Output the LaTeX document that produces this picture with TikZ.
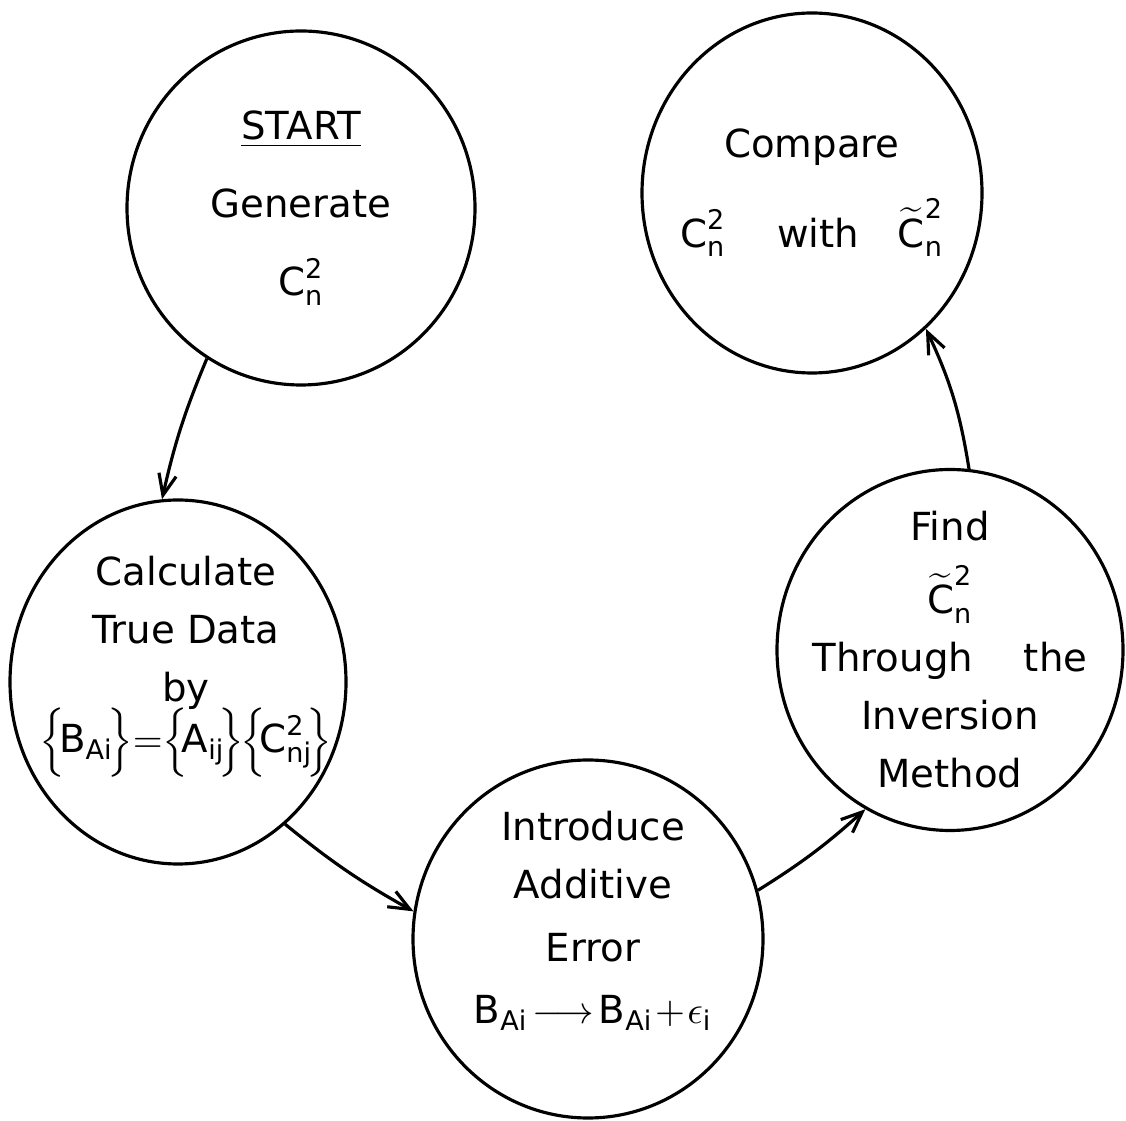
\documentclass[tikz,border=0pt]{standalone}
\usepackage{amsmath}
\usepackage{fontspec}
\setmainfont{DejaVu Sans}
\usetikzlibrary{shapes.geometric,arrows.meta}
\newcommand{\lett}[1]{\textnormal{#1}}
\newcommand{\Csq}{$\lett{C}^{\lett{2}}_{\lett{n}}$}
\newcommand{\Ctsq}{$\widetilde{\lett{C}}^{\lett{2}}_{\lett{n}}$}
\newcommand{\set}[1]{\Big\{\mkern-3mu#1\mkern-3mu\Big\}}
\tikzset{
  ring/.style={ellipse, draw, line width=0.9pt, inner sep=0pt},
  txt/.style={align=center, inner sep=0pt, font=\fontsize{11}{16.5}\selectfont},
  flow/.style={->, line width=0.9pt, >={Straight Barb[length=6pt,width=5pt]}},
}
\begin{document}
\begin{tikzpicture}
  \useasboundingbox (0,0) rectangle (11.26,11.20);
  % rings
  \node[ring, minimum width=3.48cm, minimum height=3.54cm] (start) at (3.01,9.12) {};
  \node[ring, minimum width=3.40cm, minimum height=3.60cm] (comp) at (8.12,9.27) {};
  \node[ring, minimum width=3.36cm, minimum height=3.64cm] (calc) at (1.78,4.38) {};
  \node[ring, minimum width=3.50cm, minimum height=3.58cm] (intro) at (5.88,1.81) {};
  \node[ring, minimum width=3.46cm, minimum height=3.61cm] (find) at (9.50,4.70) {};
  % texts
  \node[txt] (start-t) at (start) {\underline{START}\\[5.7pt] Generate\\[5.7pt] \Csq};
  \node[txt] (comp-t) at (comp) {Compare\\[9pt] \Csq\quad\ with\quad\Ctsq};
  \node[txt] (calc-t) at ([xshift=0.08cm,yshift=0.15cm]calc) {Calculate\\ True Data\\ by\\[-2pt]
    $\set{\lett{B}_{\lett{Ai}}}{=}\set{\lett{A}_{\lett{ij}}}\mkern-2mu\set{\lett{C}^{\lett{2}}_{\lett{nj}}}$};
  \node[txt] (intro-t) at ([xshift=0.05cm,yshift=0.18cm]intro) {Introduce\\ Additive\\[1.2pt] Error\\[1.2pt]
    $\lett{B}_{\lett{Ai}}\!\longrightarrow\!\lett{B}_{\lett{Ai}}\!+\!\epsilon_{\lett{i}}$};
  \node[txt] (find-t) at (find) {Find\\[4.3pt] \Ctsq\\ Through\quad\ the\\ Inversion\\ Method};
  % flow
  \draw[flow] (start.238) to[bend right=5] (calc.95);
  \draw[flow] (calc.307) to[bend right=5] (intro.171);
  \draw[flow] (intro.16) to[bend right=5] (find.242);
  \draw[flow] (find.84) to[bend right=8] (comp.310);
\end{tikzpicture}
\end{document}
